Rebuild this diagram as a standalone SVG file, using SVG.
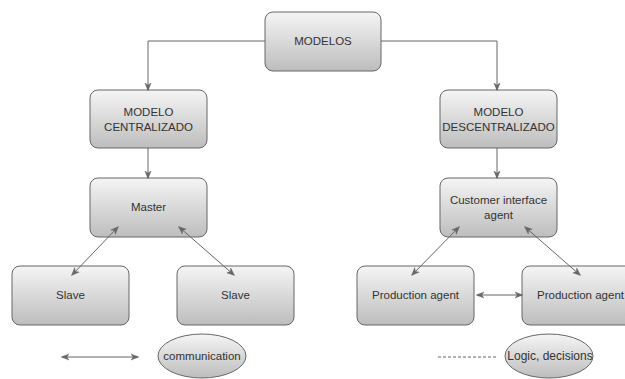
<svg xmlns="http://www.w3.org/2000/svg" width="625" height="379" viewBox="0 0 625 379">
<defs>
<linearGradient id="g" x1="0" y1="0" x2="0" y2="1">
<stop offset="0" stop-color="#f5f5f5"/>
<stop offset="1" stop-color="#bdbdbd"/>
</linearGradient>
<marker id="ah" viewBox="0 0 10 10" refX="9" refY="5" markerWidth="8" markerHeight="8" markerUnits="userSpaceOnUse" orient="auto-start-reverse">
<path d="M0,1 L10,5 L0,9 L3,5 Z" fill="#666666" stroke="#666666" stroke-width="0.5"/>
</marker>
<style>
.box{fill:url(#g);stroke:#666666;stroke-width:1}
.t{font-family:"Liberation Sans",Arial,sans-serif;font-size:11.5px;fill:#333333;text-anchor:middle}
.c{fill:none;stroke:#666666;stroke-width:1}
</style>
</defs>
<rect width="625" height="379" fill="#ffffff"/>
<g id="modelos"><rect class="box" x="265" y="12" width="116" height="59" rx="8"/><text class="t" x="323" y="45">MODELOS</text></g>
<g id="centralizado"><rect class="box" x="90" y="90" width="117" height="58" rx="8"/><text class="t" x="148.5" y="116">MODELO</text><text class="t" x="148.5" y="131">CENTRALIZADO</text></g>
<g id="descentralizado"><rect class="box" x="440" y="90" width="117" height="58" rx="8"/><text class="t" x="498.5" y="116">MODELO</text><text class="t" x="498.5" y="131">DESCENTRALIZADO</text></g>
<g id="master"><rect class="box" x="90" y="178" width="117" height="59" rx="8"/><text class="t" x="148.5" y="211">Master</text></g>
<g id="customer"><rect class="box" x="440" y="178" width="117" height="59" rx="8"/><text class="t" x="498.5" y="204">Customer interface</text><text class="t" x="498.5" y="219">agent</text></g>
<g id="slave1"><rect class="box" x="12" y="266" width="117" height="59" rx="8"/><text class="t" x="70.5" y="299">Slave</text></g>
<g id="slave2"><rect class="box" x="177" y="266" width="117" height="59" rx="8"/><text class="t" x="235.5" y="299">Slave</text></g>
<g id="prod1"><rect class="box" x="357" y="266" width="117" height="59" rx="8"/><text class="t" x="415.5" y="299">Production agent</text></g>
<g id="prod2"><rect class="box" x="522" y="266" width="117" height="59" rx="8"/><text class="t" x="580.5" y="299">Production agent</text></g>
<g id="communication"><ellipse class="box" cx="202" cy="356" rx="44" ry="22"/><text class="t" x="202" y="360">communication</text></g>
<g id="logic"><ellipse class="box" cx="549" cy="356" rx="44" ry="22"/><text class="t" x="550" y="360" style="font-size:12px">Logic, decisions</text></g>
<g id="connectors">
<path class="c" d="M265,41 H148 V90" marker-end="url(#ah)"/>
<path class="c" d="M381,41 H497 V90" marker-end="url(#ah)"/>
<path class="c" d="M148,148 V178" marker-end="url(#ah)"/>
<path class="c" d="M497,148 V178" marker-end="url(#ah)"/>
<path class="c" d="M118,227 L72,275" marker-start="url(#ah)" marker-end="url(#ah)"/>
<path class="c" d="M179,227 L234,275" marker-start="url(#ah)" marker-end="url(#ah)"/>
<path class="c" d="M459,227 L412,275" marker-start="url(#ah)" marker-end="url(#ah)"/>
<path class="c" d="M525,227 L580,275" marker-start="url(#ah)" marker-end="url(#ah)"/>
<path class="c" d="M477,295 L522,295" marker-start="url(#ah)" marker-end="url(#ah)"/>
<path class="c" d="M62,357 L138,357" marker-start="url(#ah)" marker-end="url(#ah)"/>
<path class="c" d="M438,357 L497,357" stroke-dasharray="3,2" stroke="#999999"/>
</g>
</svg>
